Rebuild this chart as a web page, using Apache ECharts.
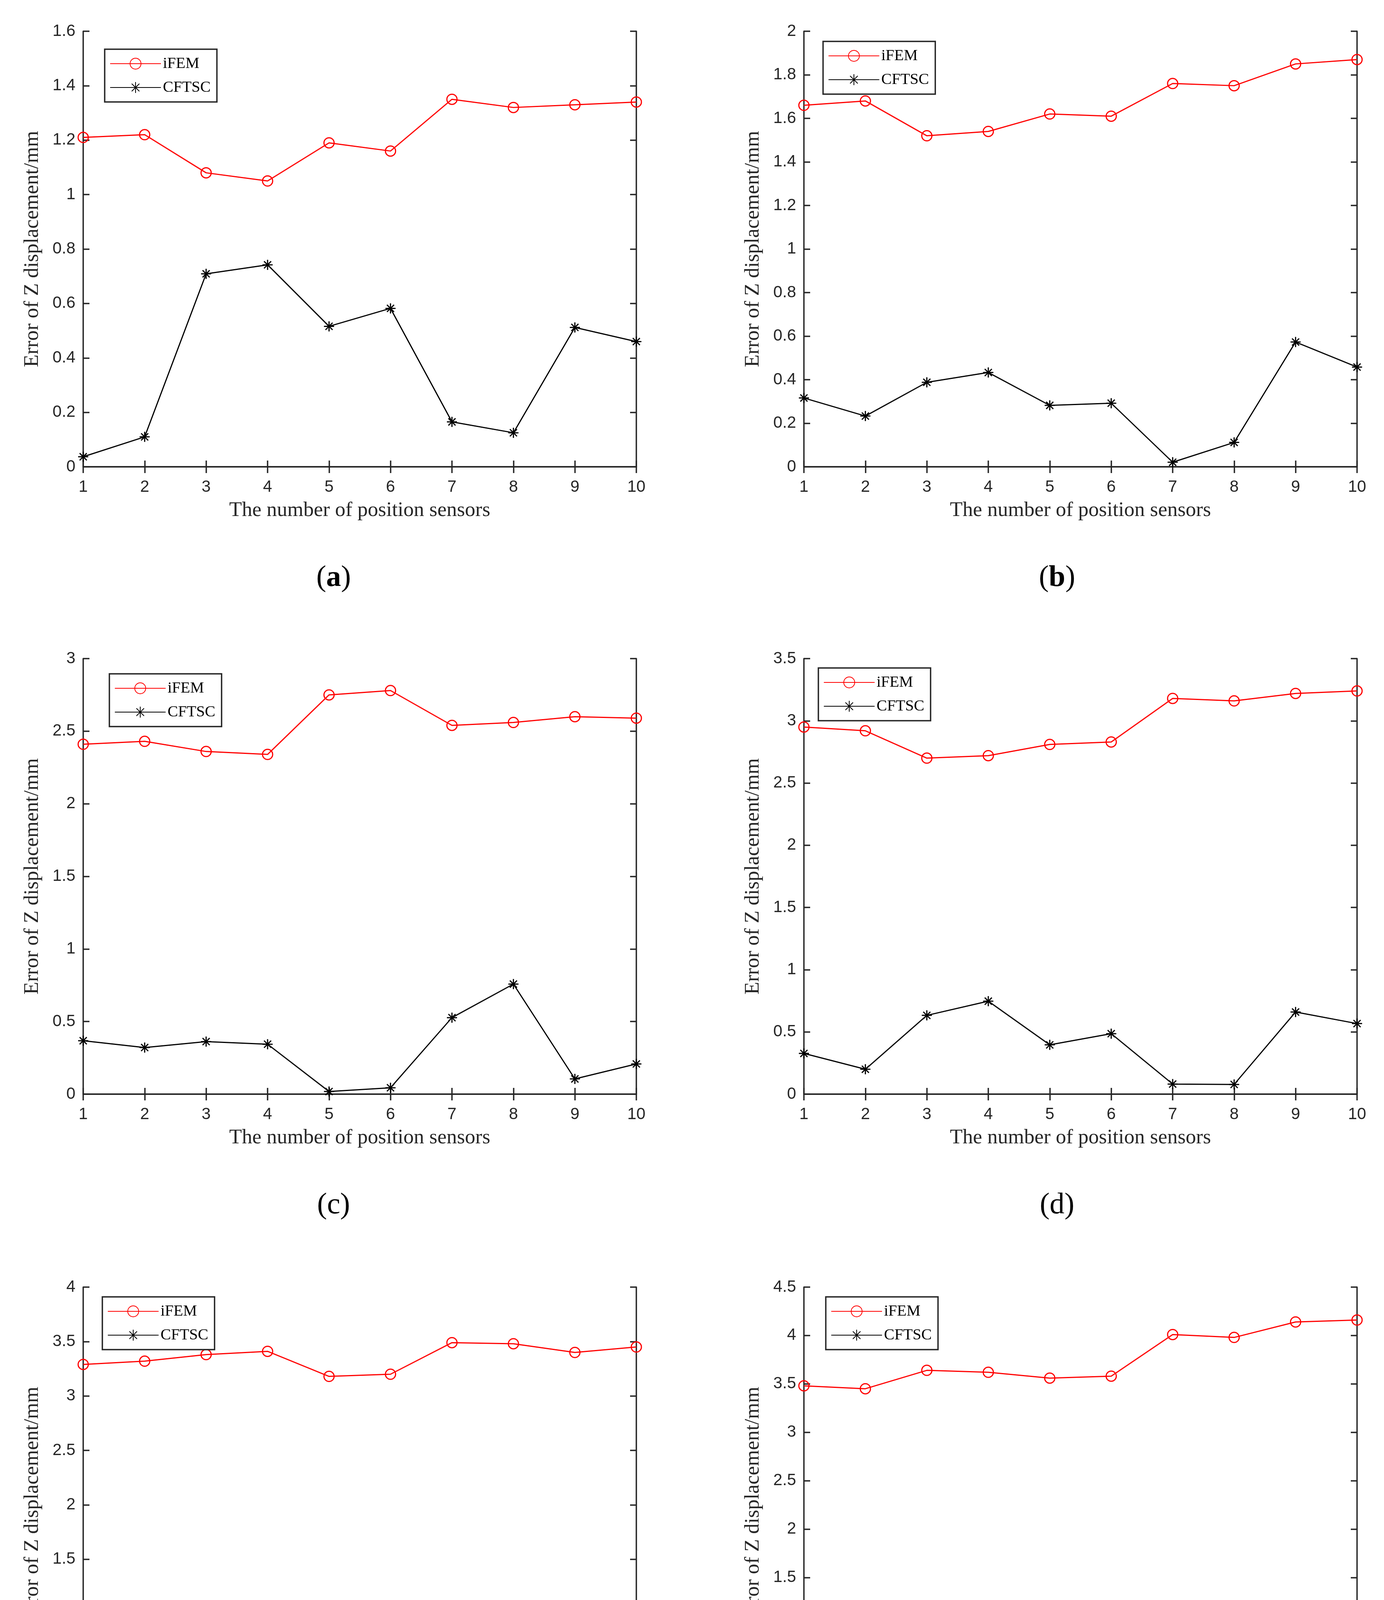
<!DOCTYPE html>
<html>
<head>
<meta charset="utf-8">
<script src="https://cdn.jsdelivr.net/npm/echarts@6/dist/echarts.min.js"></script>
<style>
html,body{margin:0;padding:0;background:#ffffff;}
#c{width:3543px;height:4765px;}
</style>
</head>
<body>
<div id="c"></div>
<script>
// ---------- data ----------
const sensors = [1, 2, 3, 4, 5, 6, 7, 8, 9, 10];
const seriesNames = ['iFEM', 'CFTSC'];
const ifemA  = [1.21, 1.22, 1.08, 1.05, 1.19, 1.16, 1.35, 1.32, 1.33, 1.34];
const cftscA = [0.037, 0.11, 0.709, 0.742, 0.516, 0.582, 0.165, 0.125, 0.512, 0.46];
const ifemB  = [1.66, 1.68, 1.52, 1.54, 1.62, 1.61, 1.76, 1.75, 1.85, 1.87];
const cftscB = [0.316, 0.233, 0.388, 0.433, 0.282, 0.292, 0.021, 0.112, 0.573, 0.458];
const ifemC  = [2.41, 2.43, 2.36, 2.34, 2.75, 2.78, 2.54, 2.56, 2.60, 2.59];
const cftscC = [0.368, 0.321, 0.362, 0.344, 0.018, 0.044, 0.527, 0.758, 0.105, 0.208];
const ifemD  = [2.95, 2.92, 2.70, 2.72, 2.81, 2.83, 3.18, 3.16, 3.22, 3.24];
const cftscD = [0.327, 0.20, 0.633, 0.747, 0.396, 0.486, 0.081, 0.078, 0.66, 0.567];
const ifemE  = [3.29, 3.32, 3.38, 3.41, 3.18, 3.20, 3.49, 3.48, 3.40, 3.45];
const cftscE = [0.649, 0.513, 0.265, 0.376, 0.186, 0.111, 0.90, 0.935, 0.419, 0.566];
const ifemF  = [3.48, 3.45, 3.64, 3.62, 3.56, 3.58, 4.01, 3.98, 4.14, 4.16];
const cftscF = [0.633, 0.427, 0.399, 0.629, 0.048, 0.246, 0.645, 0.50, 0.052, 0.117];
const panelLetters = ['a', 'b', 'c', 'd', 'e', 'f'];
const boldLetter = [true, true, false, false, false, false];
const yMaxes = [1.6, 2, 3, 3.5, 4, 4.5];
const yIntervals = [0.2, 0.2, 0.5, 0.5, 0.5, 0.5];
const xTitle = 'The number of position sensors';
const yTitle = 'Error of Z displacement/mm';

// ---------- layout ----------
const ifemAll = [ifemA, ifemB, ifemC, ifemD, ifemE, ifemF];
const cftscAll = [cftscA, cftscB, cftscC, cftscD, cftscE, cftscF];
const colLeft = [213, 2058];
const plotW = 1416;
const rowTop = [80, 1686, 3295];
const plotH = 1115;
const legendPos = [[268, 126], [2107, 106], [280, 1725], [2095, 1710], [262, 3320], [2114, 3320]];
const labelX = [854, 2706];
const labelY = [1480, 3086, 4695];

const AX = '#262626';
const asterisk = 'path://M50,0L50,100M0,50L100,50M15,15L85,85M15,85L85,15';

const grids = [], xAxes = [], yAxes = [], series = [], legends = [], graphics = [];

for (let i = 0; i < 6; i++) {
  const col = i % 2, row = Math.floor(i / 2);
  grids.push({left: colLeft[col], top: rowTop[row], width: plotW, height: plotH, containLabel: false});
  const axLine = {show: true, lineStyle: {color: AX, width: 3.5}};
  const axTick = {show: true, inside: true, length: 16, lineStyle: {color: AX, width: 3.5}};
  xAxes.push({
    gridIndex: i, type: 'value', position: 'bottom', min: 1, max: 10, interval: 1,
    axisLine: axLine, axisTick: axTick, splitLine: {show: false},
    axisLabel: {margin: 31, fontSize: 42, fontFamily: 'Liberation Sans', color: AX},
    name: xTitle, nameLocation: 'middle', nameGap: 86,
    nameTextStyle: {fontFamily: 'Liberation Serif', fontSize: 53, color: AX}
  });
  xAxes.push({
    gridIndex: i, type: 'value', position: 'top', min: 1, max: 10, interval: 1,
    axisLine: axLine, axisTick: axTick, splitLine: {show: false}, axisLabel: {show: false}
  });
  yAxes.push({
    gridIndex: i, type: 'value', position: 'left', min: 0, max: yMaxes[i], interval: yIntervals[i],
    axisLine: axLine, axisTick: axTick, splitLine: {show: false},
    axisLabel: {margin: 20, fontSize: 42, fontFamily: 'Liberation Sans', color: AX,
      formatter: v => String(+v.toFixed(2))},
    name: yTitle, nameLocation: 'middle', nameGap: 103, nameRotate: 90,
    nameTextStyle: {fontFamily: 'Liberation Serif', fontSize: 53, color: AX}
  });
  yAxes.push({
    gridIndex: i, type: 'value', position: 'right', min: 0, max: yMaxes[i], interval: yIntervals[i],
    axisLine: axLine, axisTick: axTick, splitLine: {show: false}, axisLabel: {show: false}
  });
  series.push({
    name: seriesNames[0], type: 'line', xAxisIndex: 2 * i, yAxisIndex: 2 * i,
    data: sensors.map((x, k) => [x, ifemAll[i][k]]),
    symbol: 'circle', symbolSize: 26, clip: false,
    lineStyle: {color: '#ff0000', width: 3},
    itemStyle: {color: 'rgba(255,255,255,0)', borderColor: '#ff0000', borderWidth: 3},
    emphasis: {disabled: true}, z: 3
  });
  series.push({
    name: seriesNames[1], type: 'line', xAxisIndex: 2 * i, yAxisIndex: 2 * i,
    data: sensors.map((x, k) => [x, cftscAll[i][k]]),
    symbol: asterisk, symbolSize: 26, clip: false,
    lineStyle: {color: '#000000', width: 3},
    itemStyle: {color: '#000000', borderColor: '#000000', borderWidth: 3},
    emphasis: {disabled: true}, z: 3
  });
  legends.push({
    orient: 'vertical', left: legendPos[i][0], top: legendPos[i][1],
    padding: [17, 16, 17, 13], itemGap: 21, itemWidth: 130, itemHeight: 35, itemTextGap: 10,
    borderColor: AX, borderWidth: 3.5, backgroundColor: '#ffffff', selectedMode: false,
    textStyle: {fontFamily: 'Liberation Serif', fontSize: 40, color: '#000', lineHeight: 35},
    data: seriesNames
  });
  const letter = panelLetters[i];
  graphics.push({
    type: 'text', x: labelX[col], y: labelY[row], z: 10,
    style: {
      text: boldLetter[i] ? '({b|' + letter + '})' : '(' + letter + ')',
      fontFamily: 'Liberation Serif', fontSize: 76, fill: '#000',
      align: 'center', verticalAlign: 'middle', textAlign: 'center', textVerticalAlign: 'middle',
      rich: {b: {fontFamily: 'Liberation Serif', fontSize: 76, fontWeight: 'bold', fill: '#000'}}
    }
  });
}

const chart = echarts.init(document.getElementById('c'), null, {renderer: 'canvas'});
chart.setOption({
  backgroundColor: '#ffffff',
  animation: false,
  grid: grids,
  xAxis: xAxes,
  yAxis: yAxes,
  legend: legends,
  series: series,
  graphic: graphics
});
</script>
</body>
</html>
